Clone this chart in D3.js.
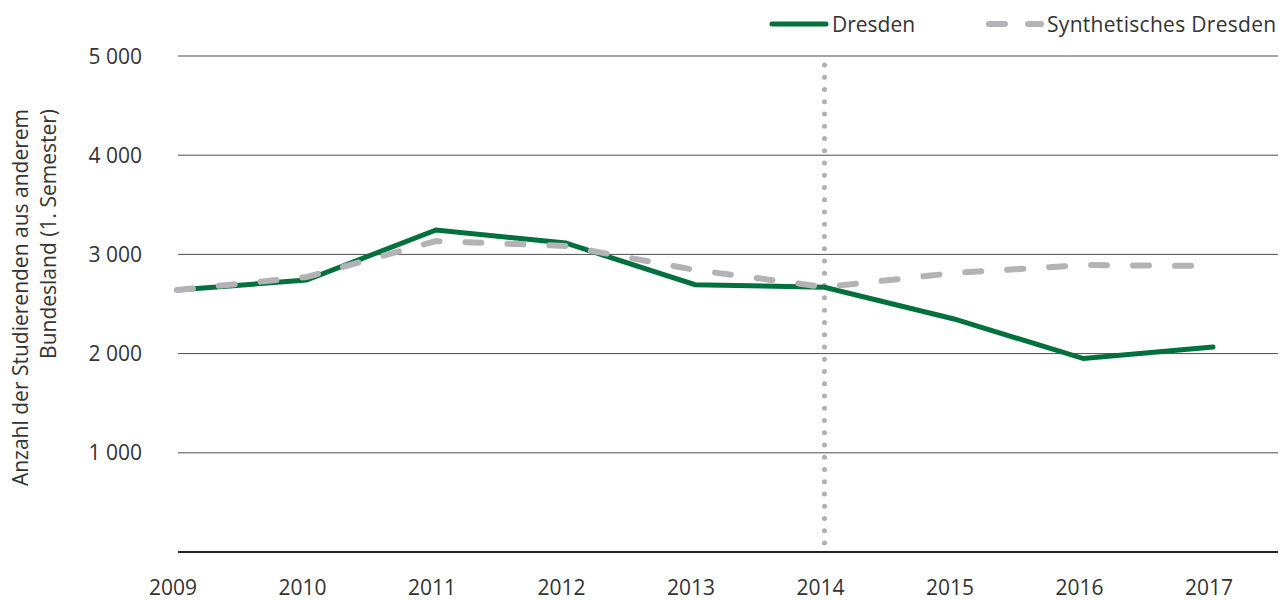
<!DOCTYPE html>
<html>
<head>
<meta charset="utf-8">
<script src="https://cdn.jsdelivr.net/npm/d3@7"></script>
<style>
  body { margin: 0; background: #fff; }
  text { font-family: "Open Sans", sans-serif; fill: #333; }
</style>
</head>
<body>
<div id="chart"></div>
<script>
// Data
const years = [2009, 2010, 2011, 2012, 2013, 2014, 2015, 2016, 2017];
const dresden = [2641, 2742, 3246, 3115, 2695, 2668, 2349, 1950, 2067];
const synthetic = [2641, 2772, 3135, 3085, 2843, 2671, 2812, 2893, 2883];
const yTicks = [1000, 2000, 3000, 4000, 5000];
const treatmentYear = 2014;

const W = 1287, H = 601;
const svg = d3.select('#chart')
  .append('svg')
    .attr('width', W)
    .attr('height', H);

const x = d3.scaleLinear()
  .domain([2009, 2017])
  .range([177, 1213]);

const y = d3.scaleLinear()
  .domain([0, 5000])
  .range([552, 56]);

const fmt = d => d3.format(',')(d).replace(',', ' ');

// Gridlines
svg.append('g')
  .selectAll('line')
  .data(yTicks)
  .join('line')
    .attr('x1', 178)
    .attr('x2', 1278)
    .attr('y1', d => y(d))
    .attr('y2', d => y(d))
    .attr('stroke', '#4d4d4d')
    .attr('stroke-width', 1);

// Baseline
svg.append('line')
  .attr('x1', 178)
  .attr('x2', 1278)
  .attr('y1', y(0))
  .attr('y2', y(0))
  .attr('stroke', '#222')
  .attr('stroke-width', 2);

// Y tick labels
svg.append('g')
  .selectAll('text')
  .data(yTicks)
  .join('text')
    .attr('x', 142)
    .attr('y', d => y(d))
    .attr('dy', '0.36em')
    .attr('text-anchor', 'end')
    .style('font-size', '21px')
    .text(fmt);

// X tick labels
svg.append('g')
  .selectAll('text')
  .data(years)
  .join('text')
    .attr('x', d => x(d) - 4)
    .attr('y', 595)
    .attr('text-anchor', 'middle')
    .style('font-size', '21px')
    .text(d => d);

// Y axis title
const title = svg.append('text')
  .attr('transform', 'translate(28,109) rotate(-90)')
  .attr('text-anchor', 'end')
  .style('font-size', '21px');
title.append('tspan').attr('x', 0).attr('y', 0).text('Anzahl der Studierenden aus anderem');
title.append('tspan').attr('x', 0).attr('y', 28).text('Bundesland (1. Semester)');

// Treatment marker (dotted)
const markTop = y(4910), markBottom = y(90);
svg.append('line')
  .attr('x1', x(treatmentYear))
  .attr('x2', x(treatmentYear))
  .attr('y1', markTop)
  .attr('y2', markBottom)
  .attr('stroke', '#b0b0b3')
  .attr('stroke-width', 5)
  .attr('stroke-linecap', 'round')
  .attr('stroke-dasharray', `0,${(markBottom - markTop) / 39}`);

const line = d3.line()
  .x((d, i) => x(years[i]))
  .y(d => y(d));

// Dresden
svg.append('path')
  .datum(dresden)
  .attr('fill', 'none')
  .attr('stroke', '#00703c')
  .attr('stroke-width', 5)
  .attr('stroke-linecap', 'round')
  .attr('d', line);

// Synthetic Dresden
svg.append('path')
  .datum(synthetic)
  .attr('fill', 'none')
  .attr('stroke', '#b3b3b6')
  .attr('stroke-width', 6)
  .attr('stroke-linecap', 'round')
  .attr('stroke-dasharray', '16,26')
  .attr('d', line);

// Legend
const legend = svg.append('g');
legend.append('line')
  .attr('x1', 772).attr('x2', 826)
  .attr('y1', 24).attr('y2', 24)
  .attr('stroke', '#00703c')
  .attr('stroke-width', 5)
  .attr('stroke-linecap', 'round');
legend.append('text')
  .attr('x', 832).attr('y', 24)
  .attr('dy', '0.36em')
  .style('font-size', '21px')
  .text('Dresden');
legend.append('line')
  .attr('x1', 989).attr('x2', 1041)
  .attr('y1', 24).attr('y2', 24)
  .attr('stroke', '#b3b3b6')
  .attr('stroke-width', 6)
  .attr('stroke-linecap', 'round')
  .attr('stroke-dasharray', '16,23');
legend.append('text')
  .attr('x', 1047).attr('y', 24)
  .attr('dy', '0.36em')
  .style('font-size', '21px')
  .style('letter-spacing', '0.3px')
  .text('Synthetisches Dresden');
</script>
</body>
</html>
